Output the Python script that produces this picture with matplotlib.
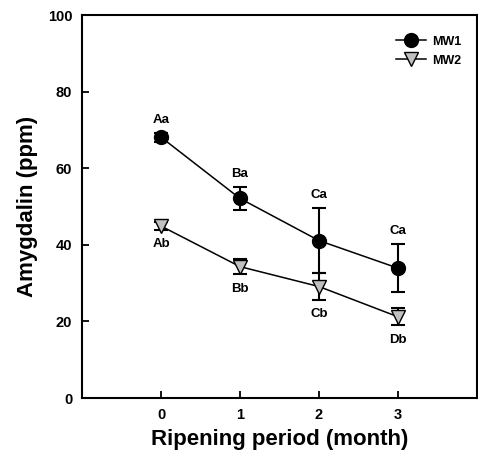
import matplotlib
matplotlib.use("Agg")
import matplotlib.pyplot as plt
from matplotlib.lines import Line2D

plt.rcParams["font.family"] = ["Liberation Sans", "DejaVu Sans"]
plt.rcParams["font.weight"] = "bold"

months = [0, 1, 2, 3]
mw1 = [68.1, 52.1, 41.1, 33.9]
mw1_err = [1.2, 2.9, 8.4, 6.2]
mw1_labels = ["Aa", "Ba", "Ca", "Ca"]
mw2 = [44.9, 34.3, 29.1, 21.2]
mw2_err = [1.0, 2.0, 3.5, 2.2]
mw2_labels = ["Ab", "Bb", "Cb", "Db"]

fig = plt.figure(figsize=(4.78, 4.62), dpi=100)
ax = fig.add_axes([82 / 478, 64 / 462, 395 / 478, 383 / 462])

ax.errorbar(months, mw1, yerr=mw1_err, fmt="-o", color="black", mfc="black",
            mec="black", ms=10, lw=1.1, elinewidth=1.5, capsize=5, capthick=1.5,
            zorder=3)
ax.errorbar(months, mw2, yerr=mw2_err, fmt="-v", color="black", mfc="#c0c0c0",
            mec="black", ms=10, lw=1.1, elinewidth=1.5, capsize=5, capthick=1.5,
            zorder=3)

for x, y, e, t in zip(months, mw1, mw1_err, mw1_labels):
    ax.annotate(t, (x, y + e), xytext=(0, 5), textcoords="offset points",
                ha="center", va="bottom", fontsize=9.5, fontweight="bold")
for x, y, e, t in zip(months, mw2, mw2_err, mw2_labels):
    ax.annotate(t, (x, y - e), xytext=(0, -6), textcoords="offset points",
                ha="center", va="top", fontsize=9.5, fontweight="bold")

ax.set_xlim(-1, 4)
ax.set_ylim(0, 100)
ax.set_xticks(months)
ax.set_yticks(range(0, 101, 20))
ax.tick_params(direction="in", length=5, width=1.3, labelsize=10.5, pad=7)
for lab in ax.get_xticklabels() + ax.get_yticklabels():
    lab.set_fontweight("bold")
for s in ax.spines.values():
    s.set_linewidth(1.5)

ax.set_xlabel("Ripening period (month)", fontsize=16, fontweight="bold", labelpad=5)
ax.set_ylabel("Amygdalin (ppm)", fontsize=16, fontweight="bold", labelpad=7)

handles = [
    Line2D([], [], color="black", lw=1.1, marker="o", ms=10, mfc="black", mec="black"),
    Line2D([], [], color="black", lw=1.1, marker="v", ms=10, mfc="#c0c0c0", mec="black"),
]
leg = ax.legend(handles, ["MW1", "MW2"], loc="upper right", frameon=False,
                fontsize=9, handlelength=2.4, handletextpad=0.5, labelspacing=0.55,
                bbox_to_anchor=(0.99, 0.975))
for t in leg.get_texts():
    t.set_fontweight("bold")

fig.savefig("out.png", dpi=100)
